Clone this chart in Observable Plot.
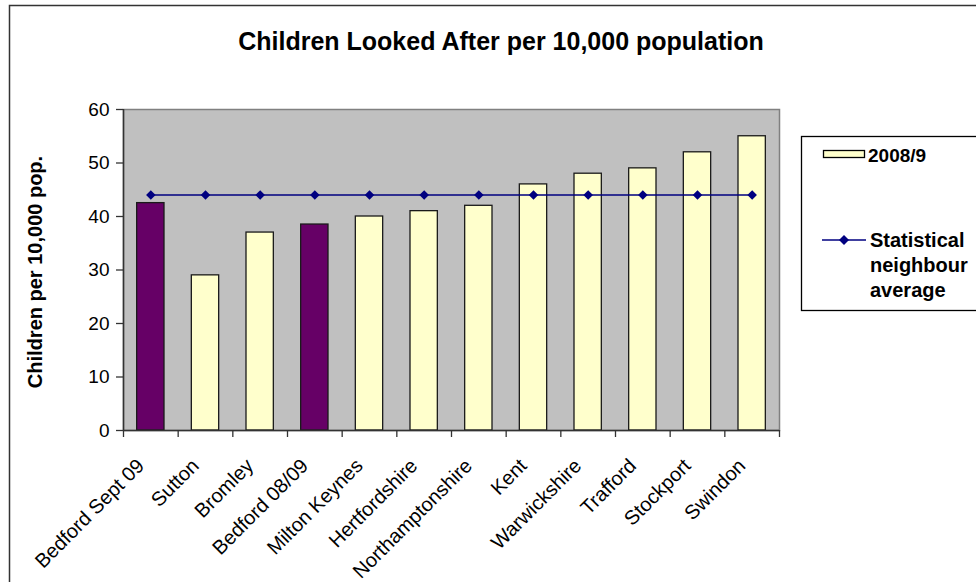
<!DOCTYPE html>
<html>
<head>
<meta charset="utf-8">
<script src="https://cdn.jsdelivr.net/npm/d3@7"></script>
<script src="https://cdn.jsdelivr.net/npm/@observablehq/plot@0.6"></script>
<style>
  body { margin: 0; background: #fff; font-family: Arial, "Liberation Sans", sans-serif; }
  #wrap { position: relative; width: 976px; height: 582px; overflow: hidden; }
  #chart, #overlay { position: absolute; left: 0; top: 0; }
  #overlay { pointer-events: none; }
</style>
</head>
<body>
<div id="wrap">
  <div id="chart"></div>
  <svg id="overlay" width="976" height="582"></svg>
</div>
<script>
// ---- data ----
const categories = ["Bedford Sept 09", "Sutton", "Bromley", "Bedford 08/09", "Milton Keynes",
  "Hertfordshire", "Northamptonshire", "Kent", "Warwickshire", "Trafford", "Stockport", "Swindon"];
const values2008 = [42.5, 29, 37, 38.5, 40, 41, 42, 46, 48, 49, 52, 55];
const neighbourAvg = [44, 44, 44, 44, 44, 44, 44, 44, 44, 44, 44, 44];
const highlighted = ["Bedford Sept 09", "Bedford 08/09"];
const yTicks = [0, 10, 20, 30, 40, 50, 60];
const titleText = "Children Looked After per 10,000 population";
const yLabel = "Children per 10,000 pop.";
const seriesBar = "2008/9";
const seriesLine = ["Statistical", "neighbour", "average"];

const data = categories.map((name, i) => ({name, value: values2008[i], avg: neighbourAvg[i]}));

// ---- layout ----
const W = 976, H = 582;
const mL = 123, mR = 197, mT = 109, mB = 152;
const step = (W - mL - mR) / categories.length;
const font = 'Arial, "Liberation Sans", sans-serif';
const navy = "#000080";

const chart = Plot.plot({
  width: W,
  height: H,
  marginLeft: mL,
  marginRight: mR,
  marginTop: mT,
  marginBottom: mB,
  style: {fontFamily: font, fontSize: "19px", color: "#000", background: "transparent"},
  x: {type: "band", domain: categories, paddingInner: 0.5, paddingOuter: 0.25, round: false, axis: null},
  y: {domain: [0, 60], axis: null},
  marks: [
    Plot.frame({fill: "#C0C0C0", stroke: "#808080", strokeWidth: 1.5}),
    Plot.barY(data, {
      x: "name", y: "value",
      fill: d => highlighted.includes(d.name) ? "#660066" : "#FFFFCC",
      stroke: "#1a1a1a", strokeWidth: 1.3
    }),
    // axis lines
    Plot.ruleY([0], {stroke: "#333", strokeWidth: 1.5}),
    Plot.ruleX([categories[0]], {x: d => d, dx: -step / 2, stroke: "#333", strokeWidth: 1.5}),
    // category boundary ticks
    Plot.ruleX(categories, {x: d => d, y1: 0, y2: 0, insetBottom: -7, dx: -step / 2, stroke: "#333", strokeWidth: 1.3}),
    Plot.ruleX([categories[categories.length - 1]], {x: d => d, y1: 0, y2: 0, insetBottom: -7, dx: step / 2, stroke: "#333", strokeWidth: 1.3}),
    // y axis
    Plot.axisY({ticks: yTicks, tickSize: 7, tickPadding: 7, fontSize: 19, label: null, stroke: "#333", strokeWidth: 1.3}),
    // neighbour average line
    Plot.lineY(data, {x: "name", y: "avg", stroke: navy, strokeWidth: 1.5}),
    Plot.dot(data, {x: "name", y: "avg", symbol: "diamond2", fill: navy, stroke: "none", r: 4.3}),
    // x labels
    Plot.text(categories, {
      x: d => d, y: 0, text: d => d, rotate: -45,
      textAnchor: "end", lineAnchor: "middle",
      dx: -10, dy: 32, fontSize: 20, fill: "#000"
    })
  ]
});
document.getElementById("chart").appendChild(chart);

// ---- overlay: border, title, y label, legend ----
const ov = d3.select("#overlay");
ov.append("path").attr("d", "M9.5,582 L9.5,5.5 L976,5.5")
  .attr("fill", "none").attr("stroke", "#333").attr("stroke-width", 1.5);

ov.append("text").attr("x", 501).attr("y", 50).attr("text-anchor", "middle")
  .attr("font-family", font).attr("font-size", 25).attr("font-weight", "bold").text(titleText);

ov.append("text").attr("transform", "translate(41.5,272) rotate(-90)").attr("text-anchor", "middle")
  .attr("font-family", font).attr("font-size", 20).attr("font-weight", "bold").text(yLabel);

const lg = ov.append("g");
lg.append("rect").attr("x", 801.5).attr("y", 136.5).attr("width", 200).attr("height", 174)
  .attr("fill", "#fff").attr("stroke", "#000").attr("stroke-width", 1.3);
lg.append("rect").attr("x", 823.5).attr("y", 150.5).attr("width", 41).attr("height", 7)
  .attr("fill", "#FFFFCC").attr("stroke", "#000").attr("stroke-width", 1.3);
lg.append("text").attr("x", 868).attr("y", 162).attr("font-family", font).attr("font-size", 19)
  .attr("font-weight", "bold").text(seriesBar);
lg.append("line").attr("x1", 822).attr("x2", 866).attr("y1", 240).attr("y2", 240)
  .attr("stroke", navy).attr("stroke-width", 1.5);
lg.append("path").attr("d", "M844,235 L849,240 L844,245 L839,240 Z").attr("fill", navy);
seriesLine.forEach((t, i) => {
  lg.append("text").attr("x", 870).attr("y", 247 + i * 25).attr("font-family", font).attr("font-size", 20)
    .attr("font-weight", "bold").text(t);
});
</script>
</body>
</html>
